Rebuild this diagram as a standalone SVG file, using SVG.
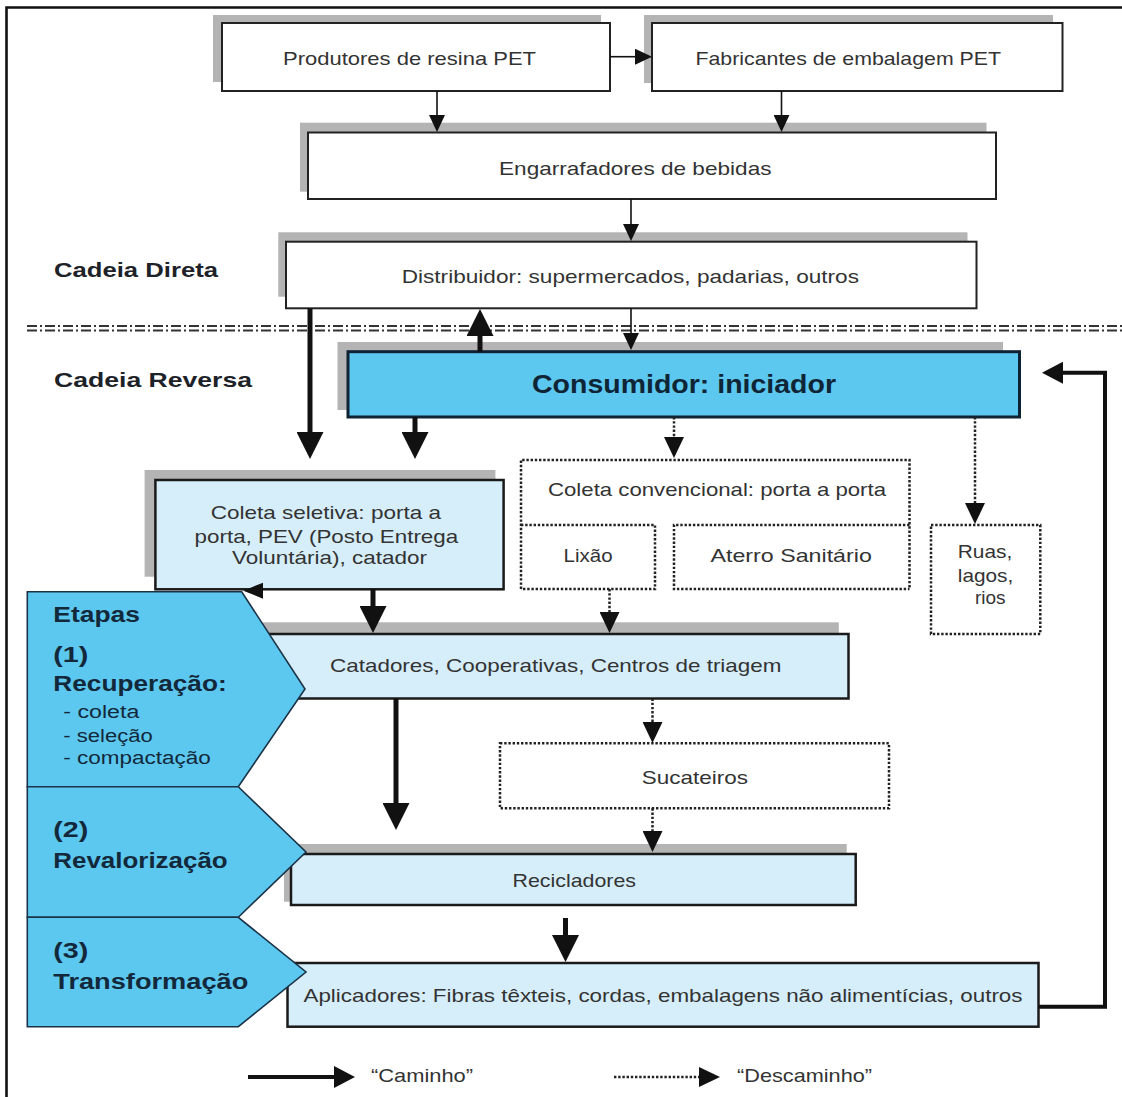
<svg xmlns="http://www.w3.org/2000/svg" width="1122" height="1097" viewBox="0 0 1122 1097">
  <style>
    .txt { font-family: "Liberation Sans", Arial, sans-serif; font-size: 19px; fill: #333; }
    .lbl { font-family: "Liberation Sans", Arial, sans-serif; font-size: 21px; font-weight: bold; fill: #1d2228; }
    .stage { font-family: "Liberation Sans", Arial, sans-serif; font-size: 22px; font-weight: bold; fill: #13283a; }
    .stagesub { font-family: "Liberation Sans", Arial, sans-serif; font-size: 18px; fill: #13283a; }
    .big { font-family: "Liberation Sans", Arial, sans-serif; font-size: 26px; font-weight: bold; fill: #0f2536; }
    .shadow { fill: #b4b4b4; }
    .box { fill: #fff; stroke: #222; stroke-width: 2; }
    .lbox { fill: #d6eefa; stroke: #1a1a1a; stroke-width: 2.5; }
    .cons { fill: #5cc8f0; stroke: #0f2233; stroke-width: 3; }
    .chev { fill: #5cc8f0; stroke: #1b3347; stroke-width: 1.6; }
    .dot { fill: none; stroke: #222; stroke-width: 2.5; stroke-dasharray: 2.4 1.8; }
    .thin { fill: none; stroke: #111; stroke-width: 1.6; }
    .thick { fill: none; stroke: #111; stroke-width: 5; }
    .mid { fill: none; stroke: #111; stroke-width: 4; }
    .sep { fill: none; stroke: #333; stroke-width: 2; }
  </style>
  <defs>
    <marker id="head-thin" markerUnits="userSpaceOnUse" viewBox="0 0 17 16" refX="0" refY="8" markerWidth="17" markerHeight="16" orient="auto">
      <path d="M0,0 L17,8 L0,16 Z" fill="#111"/>
    </marker>
    <marker id="head-thick" markerUnits="userSpaceOnUse" viewBox="0 0 27 27" refX="0" refY="13.5" markerWidth="27" markerHeight="27" orient="auto">
      <path d="M0,0 L27,13.5 L0,27 Z" fill="#111"/>
    </marker>
    <marker id="head-mid" markerUnits="userSpaceOnUse" viewBox="0 0 21 22" refX="0" refY="11" markerWidth="21" markerHeight="22" orient="auto">
      <path d="M0,0 L21,11 L0,22 Z" fill="#111"/>
    </marker>
    <marker id="head-dot" markerUnits="userSpaceOnUse" viewBox="0 0 21 20" refX="0" refY="10" markerWidth="21" markerHeight="20" orient="auto">
      <path d="M0,0 L21,10 L0,20 Z" fill="#111"/>
    </marker>
  </defs>

  <rect x="0" y="0" width="1122" height="1097" fill="#fff"/>

  <!-- outer frame -->
  <g id="frame" fill="none" stroke="#111" stroke-width="2.6">
    <path d="M1122,7.5 H6.5 V1097"/>
  </g>

  <!-- direct / reverse chain separator -->
  <g id="separator">
    <path class="sep" d="M27,326 H1122 M27,330.6 H1122" stroke-dasharray="10 8"/>
    <path class="sep" d="M40,326 H1122 M40,330.6 H1122" stroke-dasharray="2 16"/>
  </g>

  <g id="section-labels">
    <text class="lbl" x="54" y="277" textLength="164" lengthAdjust="spacingAndGlyphs">Cadeia Direta</text>
    <text class="lbl" x="54" y="387" textLength="198" lengthAdjust="spacingAndGlyphs">Cadeia Reversa</text>
  </g>

  <!-- direct chain -->
  <g id="produtores">
    <rect class="shadow" x="213" y="15" width="388" height="67"/>
    <rect class="box" x="222" y="23" width="388" height="68"/>
    <text class="txt" x="283" y="65" textLength="253" lengthAdjust="spacingAndGlyphs">Produtores de resina PET</text>
  </g>
  <g id="fabricantes">
    <rect class="shadow" x="644" y="15" width="409" height="68"/>
    <rect class="box" x="652" y="23" width="410.5" height="68"/>
    <text class="txt" x="695.5" y="65" textLength="305.5" lengthAdjust="spacingAndGlyphs">Fabricantes de embalagem PET</text>
  </g>
  <g id="engarrafadores">
    <rect class="shadow" x="300" y="122.7" width="686.5" height="69"/>
    <rect class="box" x="308" y="132.5" width="688" height="66.5"/>
    <text class="txt" x="499" y="175" textLength="272.5" lengthAdjust="spacingAndGlyphs">Engarrafadores de bebidas</text>
  </g>
  <g id="distribuidor">
    <rect class="shadow" x="278.3" y="232.3" width="689.2" height="64.4"/>
    <rect class="box" x="286" y="241.7" width="690.5" height="66.6"/>
    <text class="txt" x="401.7" y="283" textLength="457.3" lengthAdjust="spacingAndGlyphs">Distribuidor: supermercados, padarias, outros</text>
  </g>

  <!-- reverse chain -->
  <g id="consumidor">
    <rect class="shadow" x="337.5" y="342" width="665.5" height="68"/>
    <rect class="cons" x="348" y="351.7" width="671.5" height="65.3"/>
    <text class="big" x="532" y="393.3" textLength="304" lengthAdjust="spacingAndGlyphs">Consumidor: iniciador</text>
  </g>
  <g id="coleta-seletiva">
    <rect class="shadow" x="144.6" y="470" width="350.8" height="106.7"/>
    <rect class="lbox" x="155.4" y="480" width="348.2" height="109.3"/>
    <text class="txt" x="210.7" y="519.3" textLength="230.3" lengthAdjust="spacingAndGlyphs">Coleta seletiva: porta a</text>
    <text class="txt" x="194.6" y="542.7" textLength="263.6" lengthAdjust="spacingAndGlyphs">porta, PEV (Posto Entrega</text>
    <text class="txt" x="232" y="564.3" textLength="195" lengthAdjust="spacingAndGlyphs">Voluntária), catador</text>
  </g>
  <g id="coleta-convencional">
    <path class="dot" d="M521,589 V460 H909.5 V589"/>
    <text class="txt" x="548" y="496" textLength="338" lengthAdjust="spacingAndGlyphs">Coleta convencional: porta a porta</text>
  </g>
  <g id="lixao">
    <path class="dot" d="M521,525 H655 V589 H521"/>
    <text class="txt" x="563.6" y="561.7" textLength="49" lengthAdjust="spacingAndGlyphs">Lixão</text>
  </g>
  <g id="aterro">
    <path class="dot" d="M909.5,525 H674 V589 H909.5"/>
    <text class="txt" x="710.5" y="561.7" textLength="161.3" lengthAdjust="spacingAndGlyphs">Aterro Sanitário</text>
  </g>
  <g id="ruas">
    <rect class="dot" x="931" y="525" width="109.3" height="109"/>
    <text class="txt" x="957.8" y="558.3" textLength="54.5" lengthAdjust="spacingAndGlyphs">Ruas,</text>
    <text class="txt" x="957.8" y="581.7" textLength="55.5" lengthAdjust="spacingAndGlyphs">lagos,</text>
    <text class="txt" x="990.2" y="604" text-anchor="middle">rios</text>
  </g>
  <g id="catadores">
    <rect class="shadow" x="250" y="622.3" width="588.8" height="64.7"/>
    <rect class="lbox" x="260" y="634" width="588.5" height="64.5"/>
    <text class="txt" x="330" y="671.7" textLength="451.5" lengthAdjust="spacingAndGlyphs">Catadores, Cooperativas, Centros de triagem</text>
  </g>
  <g id="sucateiros">
    <rect class="dot" x="500" y="743.3" width="389" height="65"/>
    <text class="txt" x="641.7" y="784" textLength="106.3" lengthAdjust="spacingAndGlyphs">Sucateiros</text>
  </g>
  <g id="recicladores">
    <rect class="shadow" x="284" y="844" width="562.7" height="57.7"/>
    <rect class="lbox" x="291" y="854" width="564.7" height="51"/>
    <text class="txt" x="512.5" y="887.3" textLength="123.5" lengthAdjust="spacingAndGlyphs">Recicladores</text>
  </g>
  <g id="aplicadores">
    <rect class="lbox" x="287.5" y="963" width="751" height="63.7"/>
    <text class="txt" x="303.5" y="1001.7" textLength="719" lengthAdjust="spacingAndGlyphs">Aplicadores: Fibras têxteis, cordas, embalagens não alimentícias, outros</text>
  </g>

  <!-- stage chevrons -->
  <g id="etapa-1">
    <path class="chev" d="M27.3,591.7 H241.7 L305,689 L238.3,786.7 H27.3 Z"/>
    <text class="stage" x="53.3" y="621.7" textLength="86.7" lengthAdjust="spacingAndGlyphs">Etapas</text>
    <text class="stage" x="53.3" y="661.7" textLength="35" lengthAdjust="spacingAndGlyphs">(1)</text>
    <text class="stage" x="53.3" y="690.7" textLength="173.4" lengthAdjust="spacingAndGlyphs">Recuperação:</text>
    <text class="stagesub" x="63.3" y="718.3" textLength="76" lengthAdjust="spacingAndGlyphs">- coleta</text>
    <text class="stagesub" x="63.3" y="741.7" textLength="89.4" lengthAdjust="spacingAndGlyphs">- seleção</text>
    <text class="stagesub" x="63.3" y="764" textLength="147.4" lengthAdjust="spacingAndGlyphs">- compactação</text>
  </g>
  <g id="etapa-2">
    <path class="chev" d="M27.3,786.7 H238.3 L306,852 L238.3,917.3 H27.3 Z"/>
    <text class="stage" x="53.3" y="837.3" textLength="35" lengthAdjust="spacingAndGlyphs">(2)</text>
    <text class="stage" x="53.3" y="868.3" textLength="174.4" lengthAdjust="spacingAndGlyphs">Revalorização</text>
  </g>
  <g id="etapa-3">
    <path class="chev" d="M27.3,917.3 H238.3 L306,972 L238.3,1026.7 H27.3 Z"/>
    <text class="stage" x="53.3" y="958.3" textLength="35" lengthAdjust="spacingAndGlyphs">(3)</text>
    <text class="stage" x="53.3" y="989.3" textLength="195" lengthAdjust="spacingAndGlyphs">Transformação</text>
  </g>

  <!-- connectors -->
  <g id="connectors">
    <path class="thin" d="M610,56.7 H635" marker-end="url(#head-thin)"/>
    <path class="thin" d="M437,91 V115" marker-end="url(#head-thin)"/>
    <path class="thin" d="M781.5,91 V115" marker-end="url(#head-thin)"/>
    <path class="thin" d="M631,199 V224" marker-end="url(#head-thin)"/>
    <path class="thin" d="M631,308.3 V333" marker-end="url(#head-thin)"/>

    <path class="thick" d="M310,308.3 V432" marker-end="url(#head-thick)"/>
    <path class="thick" d="M480,351.7 V336" marker-end="url(#head-thick)"/>
    <path class="thick" d="M415,417 V432" marker-end="url(#head-thick)"/>
    <path class="thick" d="M373,589.3 V606" marker-end="url(#head-thick)"/>
    <path class="thick" d="M396,698.5 V803" marker-end="url(#head-thick)"/>
    <path class="thick" d="M565.5,918 V935" marker-end="url(#head-thick)"/>
    <path d="M263,582.7 L243.3,590.7 L263,598.7 Z" fill="#111"/>

    <path class="mid" d="M1038.5,1006.7 H1105 V372.7 H1063" marker-end="url(#head-mid)"/>

    <path class="dot" d="M674,417 V437" marker-end="url(#head-dot)"/>
    <path class="dot" d="M975,417 V503" marker-end="url(#head-dot)"/>
    <path class="dot" d="M609.5,589 V612" marker-end="url(#head-dot)"/>
    <path class="dot" d="M652.5,698.5 V722" marker-end="url(#head-dot)"/>
    <path class="dot" d="M652.5,808.3 V831" marker-end="url(#head-dot)"/>
  </g>

  <!-- legend -->
  <g id="legend">
    <path class="mid" d="M248,1077 H334" marker-end="url(#head-mid)"/>
    <text class="txt" x="371" y="1082" textLength="102" lengthAdjust="spacingAndGlyphs">“Caminho”</text>
    <path class="dot" d="M614,1077 H699" marker-end="url(#head-dot)"/>
    <text class="txt" x="737" y="1082" textLength="135" lengthAdjust="spacingAndGlyphs">“Descaminho”</text>
  </g>
</svg>
